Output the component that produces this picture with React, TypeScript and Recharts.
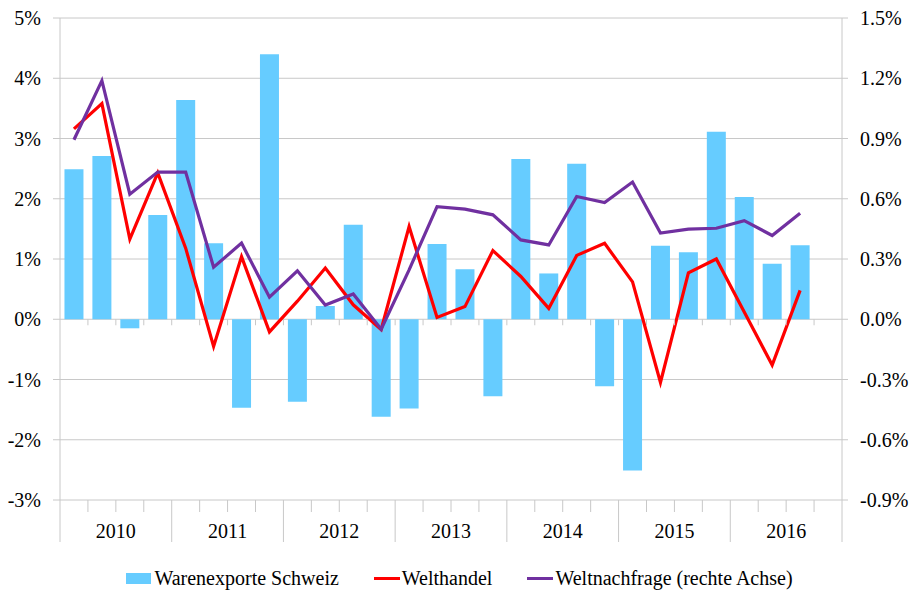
import React from 'react';
import { ComposedChart, Bar, Line, XAxis, YAxis, CartesianGrid, Legend, ReferenceDot } from 'recharts';

const categories = [
  '2010 Q1', '2010 Q2', '2010 Q3', '2010 Q4',
  '2011 Q1', '2011 Q2', '2011 Q3', '2011 Q4',
  '2012 Q1', '2012 Q2', '2012 Q3', '2012 Q4',
  '2013 Q1', '2013 Q2', '2013 Q3', '2013 Q4',
  '2014 Q1', '2014 Q2', '2014 Q3', '2014 Q4',
  '2015 Q1', '2015 Q2', '2015 Q3', '2015 Q4',
  '2016 Q1', '2016 Q2', '2016 Q3', '2016 Q4',
];
const yearLabels = ['2010', '2011', '2012', '2013', '2014', '2015', '2016'];

const warenexporte = [2.49, 2.71, -0.15, 1.73, 3.64, 1.26, -1.47, 4.40, -1.37, 0.22, 1.57, -1.62, -1.48, 1.25, 0.83, -1.28, 2.66, 0.76, 2.58, -1.11, -2.51, 1.22, 1.11, 3.11, 2.03, 0.92, 1.23, null];
const welthandel = [3.16, 3.58, 1.33, 2.43, 1.18, -0.45, 1.04, -0.21, 0.30, 0.85, 0.24, -0.17, 1.54, 0.03, 0.21, 1.14, 0.71, 0.18, 1.06, 1.26, 0.62, -1.05, 0.77, 1.00, 0.12, -0.76, 0.48, null];
const weltnachfrage = [0.894, 1.188, 0.623, 0.733, 0.733, 0.259, 0.379, 0.110, 0.241, 0.071, 0.126, -0.05, 0.246, 0.561, 0.548, 0.520, 0.395, 0.370, 0.611, 0.581, 0.683, 0.429, 0.449, 0.453, 0.491, 0.417, 0.528, null];

const leftTicks = [-3, -2, -1, 0, 1, 2, 3, 4, 5];
const rightTicks = [-0.9, -0.6, -0.3, 0, 0.3, 0.6, 0.9, 1.2, 1.5];

const seriesNames = ['Warenexporte Schweiz', 'Welthandel', 'Weltnachfrage (rechte Achse)'];

const data = categories.map((q, i) => ({
  q,
  exp: warenexporte[i],
  handel: welthandel[i],
  nachfrage: weltnachfrage[i],
}));

const W = 915;
const H = 590;
const LEFT_W = 60;
const RIGHT_W = 73;
const SLOT = (W - LEFT_W - RIGHT_W) / categories.length;
const GRID = '#C8C8C8';
const FONT = "'Times New Roman', Times, 'Liberation Serif', 'Noto Serif', 'DejaVu Serif', FreeSerif, serif";
const BLUE = '#66CCFF';
const RED = '#FF0000';
const PURPLE = '#7030A0';

const XTick = (props: any) => {
  const { x, y, index, payload } = props;
  const off = payload && typeof payload.offset === 'number' && payload.offset > 0 ? payload.offset : SLOT / 2;
  const isYearStart = index % 4 === 0;
  const els: any[] = [];
  els.push(
    <line key="b" x1={x - off} x2={x - off} y1={y} y2={y + (isYearStart ? 42 : 12)} stroke={GRID} strokeWidth={1} />
  );
  if (index === categories.length - 1) {
    els.push(<line key="e" x1={x + off} x2={x + off} y1={y} y2={y + 42} stroke={GRID} strokeWidth={1} />);
  }
  if (index % 4 === 1) {
    els.push(
      <text key="t" x={x + off} y={y + 38} textAnchor="middle" style={{ fontFamily: FONT }} fontSize={20} fill="#000">
        {yearLabels[Math.floor(index / 4)]}
      </text>
    );
  }
  return <g>{els}</g>;
};

const LegendContent = () => (
  <div
    style={{
      height: 40,
      display: 'flex',
      justifyContent: 'center',
      alignItems: 'flex-end',
      gap: 35,
      fontFamily: FONT,
      fontSize: 20,
      color: '#000',
      paddingLeft: 4,
      boxSizing: 'border-box',
      lineHeight: '24px',
    }}
  >
    <div style={{ display: 'flex', alignItems: 'center' }}>
      <span style={{ display: 'inline-block', width: 25, height: 11, background: BLUE, marginRight: 3 }} />
      <span>{seriesNames[0]}</span>
    </div>
    <div style={{ display: 'flex', alignItems: 'center' }}>
      <span style={{ display: 'inline-block', width: 26, height: 3, background: RED, marginRight: 2 }} />
      <span>{seriesNames[1]}</span>
    </div>
    <div style={{ display: 'flex', alignItems: 'center' }}>
      <span style={{ display: 'inline-block', width: 26, height: 3, background: PURPLE, marginRight: 2 }} />
      <span>{seriesNames[2]}</span>
    </div>
  </div>
);

const ZeroTick = (props: any) => {
  const { cx, cy } = props;
  if (cx == null || cy == null) return <g />;
  return <line x1={cx - SLOT / 2} x2={cx - SLOT / 2} y1={cy} y2={cy + 6} stroke={GRID} strokeWidth={1} />;
};

export default function App() {
  return (
    <div style={{ position: 'absolute', left: 0, top: 0, width: W, height: H, background: '#fff', fontFamily: FONT }}>
      <ComposedChart
        width={W}
        height={H}
        data={data}
        margin={{ top: 18, right: 0, bottom: 0, left: 0 }}
        barCategoryGap="16%"
        style={{ fontFamily: FONT }}
      >
        <CartesianGrid yAxisId="left" vertical={false} stroke={GRID} strokeWidth={1} />
        <XAxis
          dataKey="q"
          interval={0}
          height={50}
          tickSize={0}
          tickMargin={0}
          axisLine={false}
          tickLine={false}
          tick={<XTick />}
        />
        <YAxis
          yAxisId="left"
          width={LEFT_W}
          domain={[-3, 5]}
          ticks={leftTicks}
          interval={0}
          tickFormatter={(v: number) => `${v}%`}
          axisLine={{ stroke: GRID }}
          tickLine={{ stroke: GRID }}
          tickSize={7}
          tickMargin={12}
          tick={{ fill: '#000', fontSize: 20, style: { fontFamily: FONT } }}
        />
        <YAxis
          yAxisId="right"
          orientation="right"
          width={RIGHT_W}
          domain={[-0.9, 1.5]}
          ticks={rightTicks}
          interval={0}
          tickFormatter={(v: number) => `${v.toFixed(1)}%`}
          axisLine={{ stroke: GRID }}
          tickLine={{ stroke: GRID }}
          tickSize={6}
          tickMargin={12}
          tick={{ fill: '#000', fontSize: 20, textAnchor: 'start', style: { fontFamily: FONT } }}
        />
        {categories.slice(1).map((c) => (
          <ReferenceDot key={c} x={c} y={0} yAxisId="left" r={0} shape={<ZeroTick />} />
        ))}
        <Bar yAxisId="left" dataKey="exp" name={seriesNames[0]} fill={BLUE} isAnimationActive={false} />
        <Line
          yAxisId="left"
          type="linear"
          dataKey="handel"
          name={seriesNames[1]}
          stroke={RED}
          strokeWidth={3.2}
          dot={false}
          activeDot={false}
          isAnimationActive={false}
        />
        <Line
          yAxisId="right"
          type="linear"
          dataKey="nachfrage"
          name={seriesNames[2]}
          stroke={PURPLE}
          strokeWidth={3.2}
          dot={false}
          activeDot={false}
          isAnimationActive={false}
        />
        <Legend verticalAlign="bottom" height={40} content={<LegendContent />} />
      </ComposedChart>
    </div>
  );
}
